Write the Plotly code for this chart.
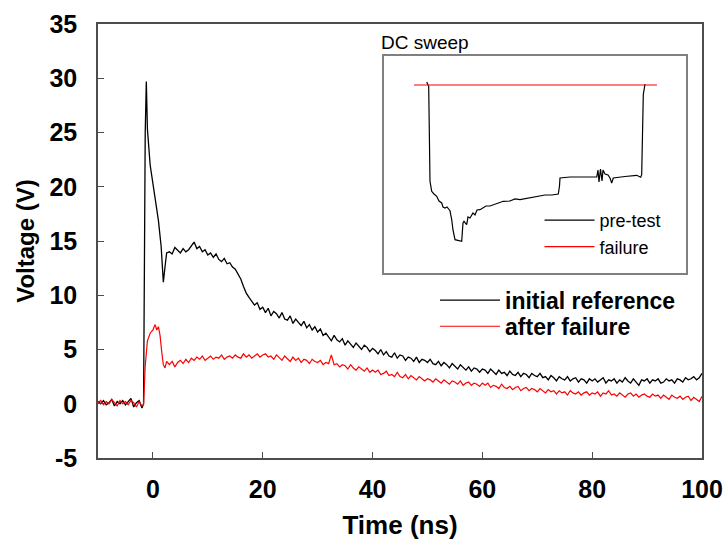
import plotly.graph_objects as go

# ---------------- main waveform data ----------------
grid_tail = [round(3.0 + 0.5 * i, 1) for i in range(195)]      # 3.0 ... 100.0 sampling grid
grid_pre = [round(-10.0 + 0.5 * i, 1) for i in range(17)]       # -10 ... -2 sampling grid

ref_pre = [0.2, 0.0, 0.3, -0.1, 0.1, 0.4, -0.2, 0.2, 0.0, 0.3, -0.1, 0.2, 0.5, -0.3, 0.1, 0.3, -0.4]
ref_pulse_t = [-1.7, -1.4, -1.2, -1.0, -0.5, 0.0, 0.4, 1.0, 1.5, 1.9, 2.2, 2.5]
ref_pulse_v = [0.0, 25.0, 29.7, 25.3, 22.0, 20.3, 18.8, 16.9, 14.5, 11.2, 12.6, 13.9]
ref_tail = [
    14.0, 13.8, 14.4, 14.1, 13.9, 14.3, 14.0, 14.2, 14.6, 14.9, 14.3, 14.5, 14.0, 14.2, 13.7, 13.9, 13.5,
    13.8, 13.3, 13.1, 13.4, 12.9, 13.0, 12.6, 12.4, 12.0, 11.5, 10.8, 10.2, 9.8, 9.4, 9.1, 9.3, 8.7, 8.9,
    8.4, 8.8, 8.1, 8.5, 8.3, 7.9, 8.4, 7.8, 7.7, 8.1, 7.4, 7.8, 7.5, 7.2, 7.6, 7.0, 7.3, 6.8, 7.1, 6.6,
    6.9, 6.3, 6.5, 6.2, 5.8, 6.3, 5.9, 5.7, 6.0, 5.4, 5.8, 5.5, 5.2, 5.6, 5.3, 5.0, 5.4, 5.2, 4.8, 5.1,
    4.9, 4.6, 5.0, 4.5, 4.8, 4.4, 4.3, 4.7, 4.2, 4.5, 4.4, 4.0, 4.3, 4.2, 3.9, 4.3, 3.8, 4.1, 4.0, 3.8,
    4.1, 3.7, 3.6, 3.9, 3.5, 3.8, 3.6, 3.3, 3.7, 3.4, 3.2, 3.6, 3.3, 3.1, 3.4, 3.0, 3.3, 3.2, 2.9, 3.2,
    3.1, 2.8, 3.2, 2.9, 2.7, 3.1, 2.8, 2.9, 2.6, 3.0, 2.7, 2.6, 2.9, 2.5, 2.8, 2.7, 2.4, 2.8, 2.6, 2.5,
    2.8, 2.4, 2.5, 2.2, 2.6, 2.4, 2.1, 2.5, 2.3, 2.2, 2.5, 2.1, 2.3, 2.4, 2.0, 2.3, 2.2, 1.9, 2.3, 2.1,
    2.3, 2.0, 2.2, 2.4, 1.9, 2.2, 2.1, 2.3, 1.9, 2.2, 2.0, 2.4, 2.1, 1.9, 2.3, 2.0, 1.7, 2.2, 2.1, 2.3,
    1.9, 2.2, 2.1, 2.3, 1.9, 2.0, 2.3, 2.1, 2.2, 1.9, 2.3, 2.2, 2.0, 2.4, 2.2, 2.3, 2.5, 2.2, 2.4, 2.8,
]

fail_pre = [0.1, 0.3, -0.1, 0.2, 0.0, 0.4, 0.1, -0.2, 0.3, 0.0, 0.2, -0.1, 0.3, 0.1, -0.3, 0.2, -0.2]
fail_pulse_t = [-1.7, -1.4, -1.0, -0.5, 0.0, 0.4, 0.7, 1.0, 1.3, 1.6, 1.9, 2.2, 2.5]
fail_pulse_v = [-0.1, 3.5, 5.8, 6.5, 6.8, 7.3, 6.8, 7.1, 6.3, 4.8, 3.6, 3.3, 3.9]
fail_tail = [
    3.6, 3.9, 3.4, 3.8, 4.0, 3.7, 4.1, 3.8, 4.2, 4.0, 4.3, 4.1, 4.4, 4.0, 4.2, 4.4, 4.1,
    4.3, 4.2, 4.5, 4.1, 4.3, 4.4, 4.2, 4.5, 4.3, 4.2, 4.6, 4.3, 4.5, 4.2, 4.4, 4.6, 4.3, 4.5,
    4.6, 4.3, 4.4, 4.1, 4.5, 4.2, 4.0, 4.4, 4.1, 3.9, 4.3, 4.0, 4.2, 3.8, 4.1, 4.0, 3.7, 4.1, 3.9, 3.8,
    4.0, 3.6, 3.8, 3.7, 4.5, 3.6, 3.7, 3.4, 3.6, 3.5, 3.2, 3.6, 3.3, 3.1, 3.4, 3.2, 3.0, 3.3, 2.9, 3.1,
    2.9, 3.1, 2.7, 2.8, 3.0, 2.6, 2.7, 2.5, 2.9, 2.5, 2.4, 2.7, 2.3, 2.6, 2.4, 2.2, 2.5, 2.3, 2.1, 2.3,
    2.2, 2.0, 2.3, 2.1, 1.9, 2.2, 2.0, 1.8, 2.1, 2.0, 1.8, 2.1, 1.7, 1.9, 2.0, 1.7, 1.9, 1.8, 1.6, 1.9,
    1.7, 1.9, 1.5, 1.7, 1.6, 1.4, 1.8, 1.5, 1.4, 1.6, 1.3, 1.5, 1.6, 1.2, 1.4, 1.5, 1.2, 1.4, 1.3, 1.1,
    1.4, 1.2, 1.0, 1.3, 1.1, 1.2, 0.9, 1.2, 1.0, 1.1, 0.8, 1.2, 1.0, 0.9, 1.1, 0.8, 1.0, 1.1, 0.8, 1.0,
    0.9, 1.1, 0.7, 1.0, 0.9, 1.2, 0.8, 0.9, 0.7, 1.0, 0.8, 0.6, 0.9, 1.0, 0.7, 0.9, 0.6, 0.8, 0.9, 0.7,
    0.6, 0.9, 0.7, 0.8, 0.5, 0.8, 0.6, 0.4, 0.8, 0.6, 0.5, 0.7, 0.4, 0.6, 0.7, 0.3, 0.6, 0.4, 0.2, 0.7,
]

assert len(ref_tail) == len(grid_tail) and len(fail_tail) == len(grid_tail)
assert len(ref_pre) == len(grid_pre) and len(fail_pre) == len(grid_pre)

ref_t = grid_pre + ref_pulse_t + grid_tail
ref_v = ref_pre + ref_pulse_v + ref_tail
fail_t = grid_pre + fail_pulse_t + grid_tail
fail_v = fail_pre + fail_pulse_v + fail_tail

y_tickvals = [-5, 0, 5, 10, 15, 20, 25, 30, 35]
y_ticktext = ["-5", "0", "5", "10", "15", "20", "25", "30", "35"]
x_tickvals = [0, 20, 40, 60, 80, 100]

# ---------------- inset (DC sweep) data, arbitrary units ----------------
dc_pre_x = [42.7, 44.7, 46, 47.7, 50, 52.7, 55, 57.7, 59, 61, 63, 66, 67.7, 69, 71, 76, 77.7, 79, 80,
            82.7, 84, 86, 89, 91, 93, 96, 99, 102, 106, 109.3, 114, 119.3, 126, 131, 136, 144, 152.7,
            161, 168, 174.3, 175.5, 176, 186, 201, 212.7, 214, 215, 216.5, 218, 219, 221, 224, 226,
            227.7, 229.3, 241, 252.7, 256.7, 257.7, 259.3, 260.3, 261]
dc_pre_y = [191, 186.7, 91.7, 81.7, 79, 76.7, 72, 70, 66, 65, 66, 62.3, 53.3, 43, 33.3, 31.7, 31.7, 50, 51.7,
            48.3, 56, 55, 60, 58, 63, 63.3, 65, 67, 67, 68.3, 70, 71.7, 72, 74, 73.3, 75, 76.7,
            78, 78, 79, 87, 95, 96, 96, 96, 103, 91, 104, 92, 103, 99, 98, 95,
            90, 95, 96.5, 97.7, 95.7, 98.3, 178.3, 186.7, 189]
dc_fail_x = [30, 273]
dc_fail_y = [188, 188]

FONT = "Liberation Sans, Arial, sans-serif"
AXC = "#4d4d4d"

fig = go.Figure()
fig.add_trace(go.Scatter(x=ref_t, y=ref_v, mode="lines", name="initial reference",
                         line=dict(color="black", width=1.3), legend="legend", showlegend=True))
fig.add_trace(go.Scatter(x=fail_t, y=fail_v, mode="lines", name="after failure",
                         line=dict(color="#ff0000", width=1.2), legend="legend3", showlegend=True))
fig.add_trace(go.Scatter(x=dc_pre_x, y=dc_pre_y, mode="lines", name="pre-test",
                         line=dict(color="black", width=1.2), xaxis="x2", yaxis="y2", legend="legend2",
                         showlegend=True))
fig.add_trace(go.Scatter(x=dc_fail_x, y=dc_fail_y, mode="lines", name="failure",
                         line=dict(color="#ff0000", width=1.2), xaxis="x2", yaxis="y2", legend="legend2",
                         showlegend=True))

main_leg_font = dict(size=23, family=FONT, weight="bold")

fig.update_layout(
    width=725, height=549, showlegend=True,
    margin=dict(l=98, r=23, t=24, b=91, autoexpand=False),
    paper_bgcolor="white", plot_bgcolor="white",
    font=dict(family=FONT, color="black"),
    xaxis=dict(range=[-10, 100], tickvals=x_tickvals, ticks="inside", ticklen=6, tickwidth=1.2,
               tickcolor=AXC, showline=True, linecolor=AXC, linewidth=1.5, mirror=True,
               showgrid=False, zeroline=False,
               tickfont=dict(size=25, family=FONT, weight="bold"), ticklabelstandoff=8,
               title=dict(text="<b>Time (ns)</b>", font=dict(size=26, family=FONT), standoff=14)),
    yaxis=dict(range=[-5, 35], tickvals=y_tickvals, ticktext=y_ticktext, ticks="inside", ticklen=6,
               tickwidth=1.2, tickcolor=AXC, showline=True, linecolor=AXC, linewidth=1.5, mirror=True,
               showgrid=False, zeroline=False,
               tickfont=dict(size=25, family=FONT, weight="bold"), ticklabelstandoff=14,
               title=dict(text="<b>Voltage (V)</b>", font=dict(size=24, family=FONT), standoff=8)),
    xaxis2=dict(domain=[0.4735, 0.9735], range=[0, 302], anchor="y2", showline=True, mirror=True,
                linecolor="#808080", linewidth=1.5, showticklabels=False, ticks="", showgrid=False,
                zeroline=False),
    yaxis2=dict(domain=[0.4263, 0.9263], range=[0, 217], anchor="x2", showline=True, mirror=True,
                linecolor="#808080", linewidth=1.5, showticklabels=False, ticks="", showgrid=False,
                zeroline=False),
    legend=dict(x=0.558, y=0.413, xanchor="left", yanchor="top", bgcolor="rgba(0,0,0,0)",
                font=main_leg_font, itemwidth=60, visible=True),
    legend3=dict(x=0.558, y=0.353, xanchor="left", yanchor="top", bgcolor="rgba(0,0,0,0)",
                 font=main_leg_font, itemwidth=60, visible=True),
    legend2=dict(x=0.731, y=0.59, xanchor="left", yanchor="top", bgcolor="rgba(0,0,0,0)",
                 font=dict(size=18, family=FONT), itemwidth=50, tracegroupgap=0, visible=True),
    annotations=[dict(text="DC sweep", xref="paper", yref="paper", x=(379 - 98) / 604, y=(458 - 43) / 434,
                      xanchor="left", yanchor="middle", showarrow=False,
                      font=dict(size=19, family=FONT, color="black"))],
)

fig.write_html("out.html")
